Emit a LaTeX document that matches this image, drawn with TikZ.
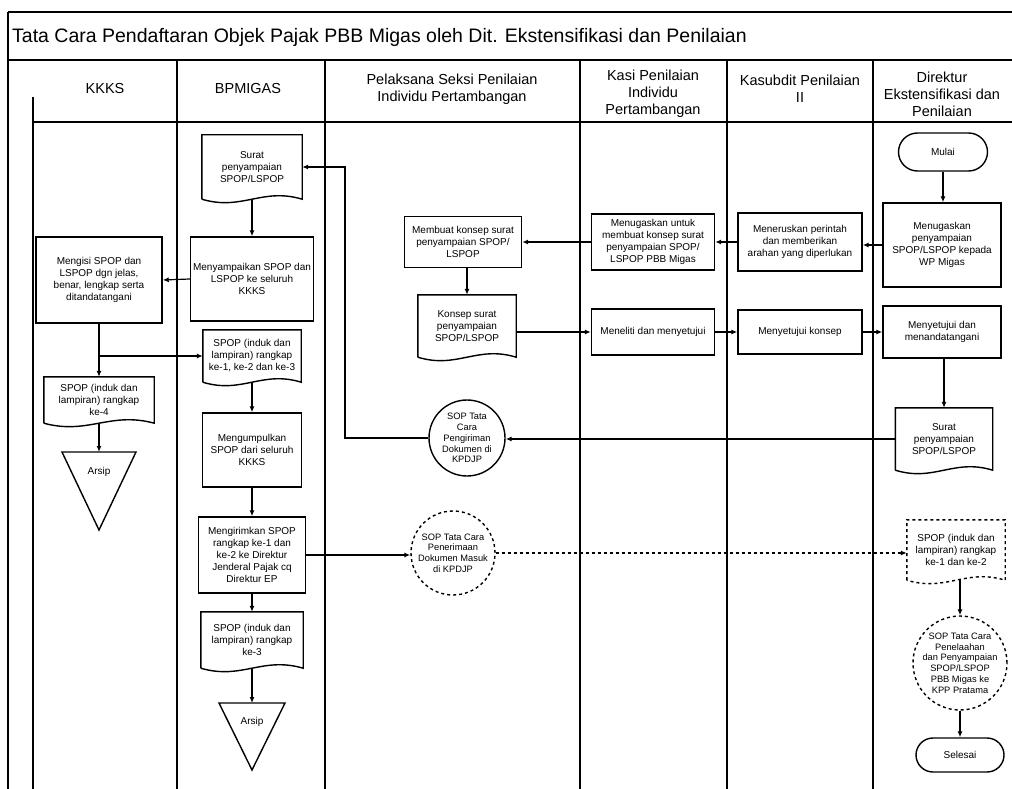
\documentclass[tikz,border=0pt]{standalone}
\usepackage{fontspec}
\setmainfont{Liberation Sans}
\usetikzlibrary{arrows.meta,calc,shapes.misc}
\newcommand\bodyf{\fontsize{10}{12}\selectfont}
\newcommand\headf{\fontsize{14.5}{17}\selectfont}
\newcommand\circf{\fontsize{9.3}{10.8}\selectfont}
\newcommand\titlef{\fontsize{19.5}{22}\selectfont}
\newcommand\docline[2][]{\draw[sline,#1] (#2.south west) -- (#2.north west) -- (#2.north east) -- (#2.south east) .. controls ($(#2.south east)!0.4!(#2.south west)+(0,-12)$) and ($(#2.south east)!0.6!(#2.south west)+(0,12)$) .. (#2.south west);}
\tikzset{
 sline/.style={line width=1.4pt},
 lane/.style={line width=1.3pt},
 box/.style={draw, sline, rectangle, align=center, inner sep=2pt, font=\bodyf},
 docn/.style={rectangle, align=center, inner sep=2pt, font=\bodyf},
 ring/.style={draw, sline, circle, inner sep=0pt},
 ringtext/.style={align=center, font=\circf, inner sep=0pt},
 term/.style={draw, sline, rounded rectangle, align=center, font=\bodyf, inner sep=2pt},
 arr/.style={line width=1.2pt, -{Latex[length=6pt,width=5pt]}},
 hdr/.style={align=center, font=\headf},
}
\begin{document}
\begin{tikzpicture}[x=1pt,y=-1pt]
\useasboundingbox (0,0) rectangle (1012,789);
% frame and lanes
\draw[lane] (8,12) -- (1012,12);
\draw[lane] (8,60) -- (1012,60);
\draw[lane] (33,122) -- (1012,122);
\draw[lane] (8,12) -- (8,789);
\draw[lane] (33,97) -- (33,789);
\foreach \xx in {177,325,580,727,873} \draw[lane] (\xx,60) -- (\xx,789);
\node[font=\titlef, anchor=west, inner sep=0pt] (title) at (12,37) {Tata Cara Pendaftaran Objek Pajak PBB Migas oleh Dit. Ekstensifikasi dan Penilaian};
% headers
\node[hdr] (h1) at (105,89) {KKKS};
\node[hdr] (h2) at (248,89) {BPMIGAS};
\node[hdr] (h3) at (452,89) {Pelaksana Seksi Penilaian\\Individu Pertambangan};
\node[hdr] (h4) at (653,94) {Kasi Penilaian\\Individu\\Pertambangan};
\node[hdr] (h5) at (800,89) {Kasubdit Penilaian\\II};
\node[hdr] (h6) at (942,94) {Direktur\\Ekstensifikasi dan\\Penilaian};
% KKKS lane
\node[box, minimum width=126, minimum height=86] (kk1) at (99,280) {Mengisi SPOP dan\\LSPOP dgn jelas,\\benar, lengkap serta\\ditandatangani};
\node[docn, minimum width=110, minimum height=46] (kkdoc) at (99,400) {SPOP (induk dan\\lampiran) rangkap\\ke-4};
\docline{kkdoc}
\draw[sline] (62,452) -- (136,452) -- (99,530) -- cycle;
\node[font=\bodyf] (arsip1) at (99,472) {Arsip};
\coordinate (a1) at (99,452);
% BPMIGAS lane
\node[docn, minimum width=100, minimum height=64] (bp1) at (252,167) {Surat\\penyampaian\\SPOP/LSPOP};
\docline{bp1}
\node[box, minimum width=123, minimum height=84] (bp2) at (252,279) {Menyampaikan SPOP dan\\LSPOP ke seluruh\\KKKS};
\node[docn, minimum width=98, minimum height=52] (bp3) at (252,356) {SPOP (induk dan\\lampiran) rangkap\\ke-1, ke-2 dan ke-3};
\docline{bp3}
\node[box, minimum width=99, minimum height=74] (bp4) at (252,450) {Mengumpulkan\\SPOP dari seluruh\\KKKS};
\node[box, minimum width=107, minimum height=76] (bp5) at (252,555) {Mengirimkan SPOP\\rangkap ke-1 dan\\ke-2 ke Direktur\\Jenderal Pajak cq\\Direktur EP};
\node[docn, minimum width=102, minimum height=56] (bp6) at (252,640) {SPOP (induk dan\\lampiran) rangkap\\ke-3};
\docline{bp6}
\draw[sline] (219,703) -- (285,703) -- (252,770) -- cycle;
\node[font=\bodyf] (arsip2) at (252,722) {Arsip};
\coordinate (a2) at (252,703);
% Pelaksana lane
\node[box, minimum width=117, minimum height=51] (pl1) at (463,242) {Membuat konsep surat\\penyampaian SPOP/\\LSPOP};
\node[docn, minimum width=98, minimum height=62] (pl2) at (467,326) {Konsep surat\\penyampaian\\SPOP/LSPOP};
\docline{pl2}
\node[ring, minimum size=76] (circ1) at (467,438) {};
\node[ringtext] (circ1t) at (circ1) {SOP Tata\\Cara\\Pengiriman\\Dokumen di\\KPDJP};
\node[ring, dashed, minimum size=84] (circ2) at (453,553) {};
\node[ringtext] (circ2t) at (circ2) {SOP Tata Cara\\Penerimaan\\Dokumen Masuk\\di KPDJP};
% Kasi lane
\node[box, minimum width=123, minimum height=56] (ks1) at (653,242) {Menugaskan untuk\\membuat konsep surat\\penyampaian SPOP/\\LSPOP PBB Migas};
\node[box, minimum width=123, minimum height=46] (ks2) at (653,332) {Meneliti dan menyetujui};
% Kasubdit lane
\node[box, minimum width=124, minimum height=58] (kb1) at (800,242) {Meneruskan perintah\\dan memberikan\\arahan yang diperlukan};
\node[box, minimum width=124, minimum height=44] (kb2) at (800,332) {Menyetujui konsep};
% Direktur lane
\node[term, minimum width=93, minimum height=38] (mulai) at (943,152) {Mulai};
\node[box, minimum width=118, minimum height=84] (dr1) at (942,245) {Menugaskan\\penyampaian\\SPOP/LSPOP kepada\\WP Migas};
\node[box, minimum width=118, minimum height=52] (dr2) at (942,332) {Menyetujui dan\\menandatangani};
\node[docn, minimum width=97, minimum height=62] (dr3) at (944,439) {Surat\\penyampaian\\SPOP/LSPOP};
\docline{dr3}
\node[docn, minimum width=98, minimum height=60] (dr4) at (956,550) {SPOP (induk dan\\lampiran) rangkap\\ke-1 dan ke-2};
\docline[dashed]{dr4}
\node[ring, dashed, minimum size=94] (circ3) at (960,663) {};
\node[ringtext] (circ3t) at (circ3) {SOP Tata Cara\\Penelaahan\\dan Penyampaian\\SPOP/LSPOP\\PBB Migas ke\\KPP Pratama};
\node[term, minimum width=92, minimum height=34] (selesai) at (960,755) {Selesai};
\coordinate (j1) at (345,0);
% connectors
\draw[arr] (mulai.south) -- (mulai.south |- dr1.north);
\draw[arr] (dr1.west) -- (dr1.west -| kb1.east);
\draw[arr] (kb1.west) -- (ks1.east);
\draw[arr] (ks1.west) -- (pl1.east);
\draw[arr] (pl1.south -| pl2.north) -- (pl2.north);
\draw[arr] (ks2.west -| pl2.east) -- (ks2.west);
\draw[arr] (ks2.east) -- (kb2.west);
\draw[arr] (kb2.east) -- (dr2.west);
\draw[arr] (dr2.south -| dr3.north) -- (dr3.north);
\draw[arr] (dr3.west) -- (dr3.west -| circ1.east);
\draw[arr] (circ1.west) -- (circ1.west -| j1) -- (j1 |- bp1.east) -- (bp1.east);
\draw[arr] (bp1.south) -- (bp2.north);
\draw[arr] (bp2.west) -- (kk1.east);
\draw[arr] (kk1.south) -- (kkdoc.north);
\draw[arr] (kk1.south |- bp3.west) -- (bp3.west);
\draw[arr] (kkdoc.south) -- (a1);
\draw[arr] (bp3.south) -- (bp4.north);
\draw[arr] (bp4.south) -- (bp5.north);
\draw[arr] (bp5.east) -- (bp5.east -| circ2.west);
\draw[arr, dashed] (circ2.east) -- (circ2.east -| dr4.west);
\draw[arr] (bp5.south) -- (bp6.north);
\draw[arr] (bp6.south) -- (a2);
\draw[arr] (circ3.north |- dr4.south) -- (circ3.north);
\draw[arr] (circ3.south) -- (selesai.north);
\end{tikzpicture}
\end{document}
